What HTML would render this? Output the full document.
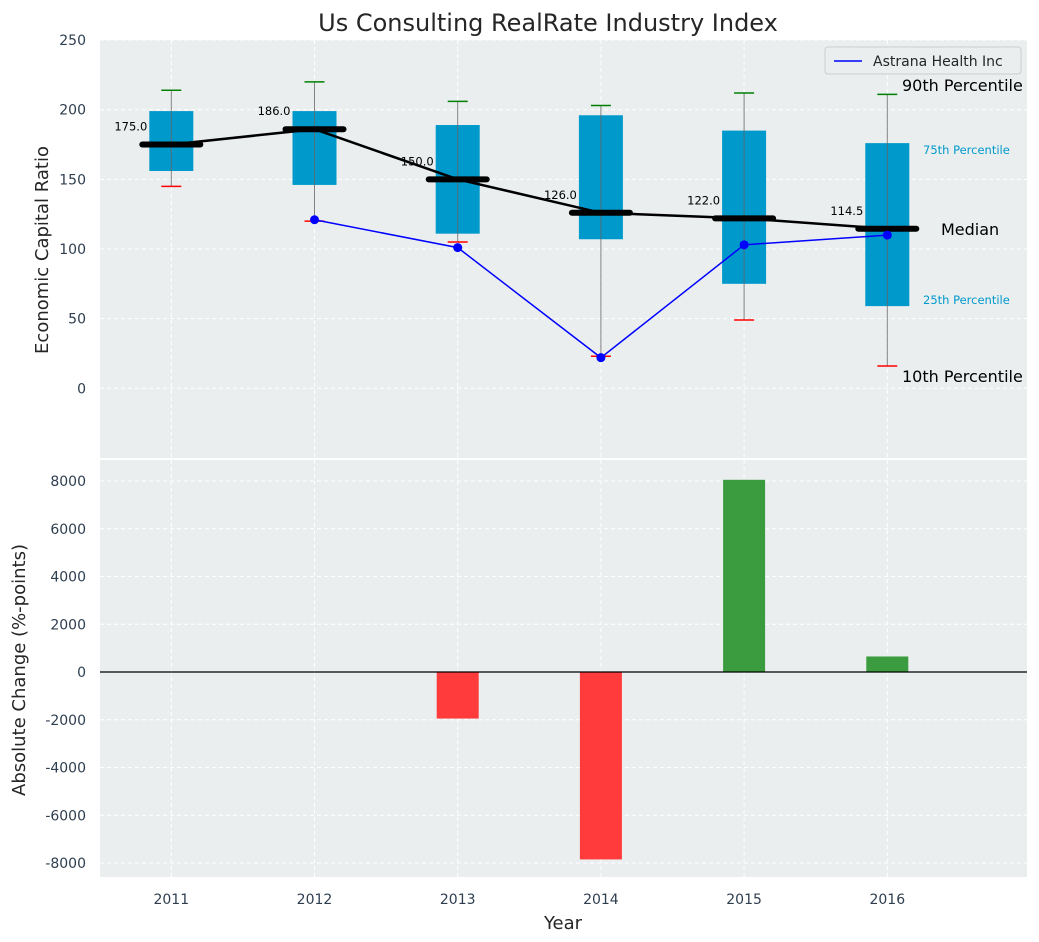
<!DOCTYPE html>
<html><head><meta charset="utf-8"><style>
body{margin:0;background:#fff;}
svg{display:block;font-family:"DejaVu Sans","Liberation Sans",sans-serif;}
</style></head><body>
<svg id="chart" width="1039" height="942">
<text x="548" y="31" text-anchor="middle" font-size="24" fill="#262626">Us Consulting RealRate Industry Index</text>
<g id="topPanel"></g>
<g id="botPanel"></g>
</svg>
<script>
const years=[2011,2012,2013,2014,2015,2016];
const p10=[145,120,105,23,49,16];
const q1=[156,146,111,107,75,59];
const med=[175,186,150,126,122,114.5];
const q3=[199,199,189,196,185,176];
const p90=[214,220,206,203,212,211];
const compYears=[2012,2013,2014,2015,2016];
const compVals=[121,101,22,103,110];
const chgYears=[2013,2014,2015,2016];
const chgVals=[-1950,-7850,8050,650];
const yTicks=[0,50,100,150,200,250];
const cTicks=[-8000,-6000,-4000,-2000,0,2000,4000,6000,8000];

const NS="http://www.w3.org/2000/svg";
const L=100,R=1027;
const x=v=>171.3+(v-2011)*143.2;
const yT=v=>388.3-v*1.393;
const yB=v=>672-v*47.75/2000;
function mk(p,t,a){const e=document.createElementNS(NS,t);for(const k in a)e.setAttribute(k,a[k]);p.appendChild(e);return e;}
const topG=document.getElementById('topPanel'),botG=document.getElementById('botPanel');

let e=mk(topG,'rect',{x:L,y:40,width:R-L,height:418,fill:'#eaeeef'});

e=mk(botG,'rect',{x:L,y:460,width:R-L,height:417,fill:'#eaeeef'});


yTicks.forEach(t=>{
  mk(topG,'line',{x1:L,x2:R,y1:yT(t),y2:yT(t),stroke:'#fff','stroke-dasharray':'4,3'});
  e=mk(topG,'text',{x:86,y:yT(t)+5,'text-anchor':'end','font-size':14,fill:'#2e3e4f'});
  e.textContent=t;
});
cTicks.forEach(t=>{
  mk(botG,'line',{x1:L,x2:R,y1:yB(t),y2:yB(t),stroke:'#fff','stroke-dasharray':'4,3'});
  e=mk(botG,'text',{x:86,y:yB(t)+5,'text-anchor':'end','font-size':14,fill:'#2e3e4f'});
  e.textContent=t;
});
years.forEach(yr=>{
  mk(topG,'line',{x1:x(yr),x2:x(yr),y1:40,y2:458,stroke:'#fff','stroke-dasharray':'4,3'});
  mk(botG,'line',{x1:x(yr),x2:x(yr),y1:460,y2:877,stroke:'#fff','stroke-dasharray':'4,3'});
  e=mk(botG,'text',{x:x(yr),y:904,'text-anchor':'middle','font-size':14,fill:'#2e3e4f'});
  e.textContent=yr;
});

years.forEach((yr,i)=>{
  const cx=x(yr);
  e=mk(topG,'rect',{x:cx-22,y:yT(q3[i]),width:44,height:yT(q1[i])-yT(q3[i]),fill:'#0099cc'});
  
  mk(topG,'line',{x1:cx,x2:cx,y1:yT(p10[i]),y2:yT(p90[i]),stroke:'#666','stroke-width':1,opacity:0.8});
  mk(topG,'line',{x1:cx-10,x2:cx+10,y1:yT(p10[i]),y2:yT(p10[i]),stroke:'red','stroke-width':1.5});
  mk(topG,'line',{x1:cx-10,x2:cx+10,y1:yT(p90[i]),y2:yT(p90[i]),stroke:'green','stroke-width':1.5});
});
mk(topG,'polyline',{points:years.map((yr,i)=>x(yr)+','+yT(med[i])).join(' '),fill:'none',stroke:'#000','stroke-width':2.5});
years.forEach((yr,i)=>{
  e=mk(topG,'line',{x1:x(yr)-29,x2:x(yr)+29,y1:yT(med[i]),y2:yT(med[i]),stroke:'#000','stroke-width':6,'stroke-linecap':'round'});
  
  e=mk(topG,'text',{x:x(yr)-24,y:yT(med[i])-14,'text-anchor':'end','font-size':11.5,fill:'#000'});
  e.textContent=med[i].toFixed(1);
});
mk(topG,'polyline',{points:compYears.map((yr,i)=>x(yr)+','+yT(compVals[i])).join(' '),fill:'none',stroke:'blue','stroke-width':1.5});
compYears.forEach((yr,i)=>{
  e=mk(topG,'circle',{cx:x(yr),cy:yT(compVals[i]),r:4.5,fill:'blue'});
  
});
const lbls=[['90th Percentile',902,91,16,'#000'],['75th Percentile',923,154,11.5,'#0099cc'],['Median',941,235,16,'#000'],['25th Percentile',923,304,11.5,'#0099cc'],['10th Percentile',902,382,16,'#000']];
lbls.forEach(l=>{e=mk(topG,'text',{x:l[1],y:l[2],'font-size':l[3],fill:l[4]});e.textContent=l[0];
  });
e=mk(topG,'g',{});
mk(e,'rect',{x:825,y:47,width:196,height:27,fill:'#eaeeef',stroke:'#ccc',rx:3});
mk(e,'line',{x1:834,x2:862,y1:61,y2:61,stroke:'blue','stroke-width':1.5});
let t=mk(e,'text',{x:873,y:66,'font-size':14,fill:'#262626'});t.textContent='Astrana Health Inc';

chgYears.forEach((yr,i)=>{
  const v=chgVals[i];
  e=mk(botG,'rect',{x:x(yr)-21,y:Math.min(yB(v),yB(0)),width:42,height:Math.abs(yB(v)-yB(0)),fill:v<0?'#ff3b3b':'#3a9c3e'});
  
});
mk(botG,'line',{x1:L,x2:R,y1:yB(0),y2:yB(0),stroke:'#000','stroke-width':1.2});

e=mk(topG,'text',{x:48,y:250,'text-anchor':'middle','font-size':18,fill:'#262626',transform:'rotate(-90 48 250)'});
e.textContent='Economic Capital Ratio';
e=mk(botG,'text',{x:25,y:670,'text-anchor':'middle','font-size':18,fill:'#262626',transform:'rotate(-90 25 670)'});
e.textContent='Absolute Change (%-points)';
e=mk(botG,'text',{x:563,y:929,'text-anchor':'middle','font-size':18,fill:'#262626'});
e.textContent='Year';
</script>
</body></html>
